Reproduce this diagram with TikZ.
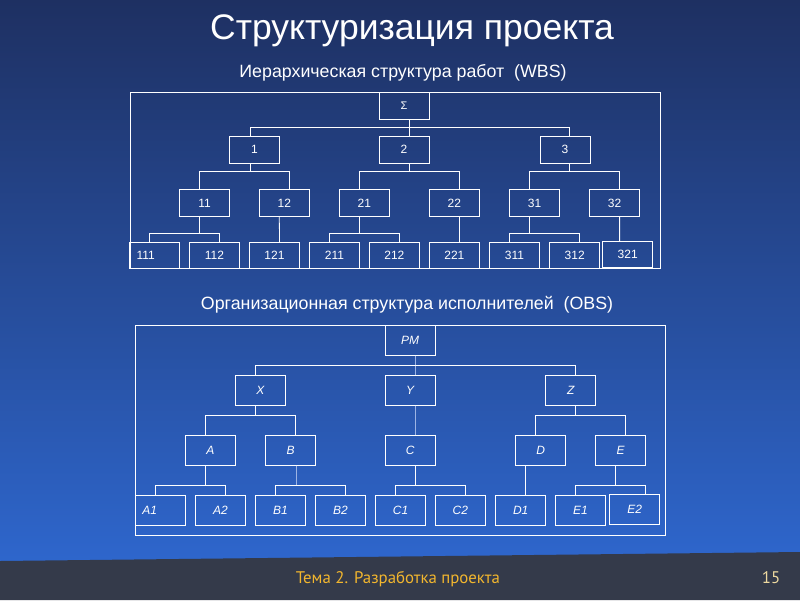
\documentclass[tikz,border=0pt]{standalone}
\usepackage{fontspec}
\setmainfont{Liberation Sans}
\newfontfamily\footfont{PT Sans}
\usepackage{tikz}
\usepackage{xcolor}
\definecolor{bgTop}     {HTML}{1E3062}
\definecolor{bgBottom}  {HTML}{2E66CC}
\definecolor{cFooter}   {HTML}{343A4A}
\definecolor{cFootText} {HTML}{F2B62E}
\definecolor{cPageNum}  {HTML}{EED9A0}
\definecolor{cPale}     {HTML}{9DB4E4}
\tikzset{
  wbsbox/.style={draw=white, line width=0.8pt, minimum width=50pt, minimum height=27pt,
                 inner sep=0pt, text=white, font=\fontsize{12}{14}\selectfont},
  obsbox/.style={wbsbox, minimum height=30pt, font=\fontsize{12}{14}\selectfont\itshape},
  wire/.style={draw=white, line width=0.8pt},
  palewire/.style={draw=cPale, line width=0.8pt},
  frame/.style={draw=white, line width=0.8pt},
}

\begin{document}
\begin{tikzpicture}[x=1pt, y=-1pt]
        \useasboundingbox (0,0) rectangle (800,600);
        % slide background
        \shade[top color=bgTop, bottom color=bgBottom] (0,0) rectangle (800,561);
        \fill[cFooter] (0,561) -- (800,552) -- (800,600) -- (0,600) -- cycle;
        % titles
        \node[font=\fontsize{35.5}{42}\selectfont, text=white, anchor=base] (title) at (412,39) {Структуризация проекта};
        \node[font=\fontsize{17.8}{21}\selectfont, text=white, anchor=base] (wbstitle) at (403,77) {Иерархическая структура работ\ \ (WBS)};
        % WBS tree
        \draw[frame] (130,92.3) rectangle (660,268.3);
        \node[wbsbox, font=\fontsize{11}{12}\selectfont] (sum) at (404,105.8) {Σ};
        \foreach \n/\x in {1/254.5, 2/404, 3/565}{
          \node[wbsbox] (w\n) at (\x,149.8) {\n};
        }
        \foreach \n/\x in {11/204.5, 12/284.3, 21/364.3, 22/454.4, 31/534.6, 32/614.6}{
          \node[wbsbox, minimum height=27.4pt] (w\n) at (\x,203) {\n};
        }
        \node[wbsbox, minimum height=26pt, text width=36pt, align=left] (w111) at (154.5,255.3) {111};
        \foreach \n/\x in {112/214.4, 121/274.5, 211/334.5, 212/394.4, 221/454.4, 311/514.5, 312/574.7}{
          \node[wbsbox, minimum height=26pt] (w\n) at (\x,255.3) {\n};
        }
        \node[wbsbox, minimum height=26pt] (w321) at (627.7,254.3) {321};
        \draw[wire] ([xshift=5.5pt]sum.south) -- ++(0,8);
        \draw[wire] ([xshift=-4.5pt]w1.north) -- ++(0,-9) -| ([xshift=4.5pt]w3.north);
        \draw[wire] ([xshift=5.5pt]w2.north) -- ++(0,-9);
        \foreach \p/\dp/\l/\dl/\r/\dr in {1/-4.5/11/-5/12/5, 2/5.5/21/-5/22/5, 3/4.5/31/-5/32/5}{
          \draw[wire] ([xshift=\dp pt]w\p.south) -- ++(0,8.4);
          \draw[wire] ([xshift=\dl pt]w\l.north) -- ++(0,-17.6) -| ([xshift=\dr pt]w\r.north);
        }
        \foreach \p/\l/\r in {11/111/112, 21/211/212, 31/311/312}{
          \draw[wire] ([xshift=-5pt]w\p.south) -- ++(0,16.6);
          \draw[wire] ([xshift=-5pt]w\l.north) -- ++(0,-9) -| ([xshift=5pt]w\r.north);
        }
        \draw[wire] ([xshift=-5pt]w12.south) -- ([xshift=5pt]w121.north);
        \draw[wire] ([xshift=5pt]w22.south) -- ([xshift=5pt]w221.north);
        \draw[wire] ([xshift=5pt]w32.south) -- ([xshift=-8.1pt]w321.north);
        % OBS tree
        \node[font=\fontsize{17.8}{21}\selectfont, text=white, anchor=base] (obstitle) at (407,309) {Организационная структура исполнителей\ \ (OBS)};
        \draw[frame] (135.4,325) rectangle (665.6,535);
        \node[obsbox] (pm) at (410.2,340.2) {PM};
        \foreach \n/\x in {x/260.4, y/410.2, z/570.8}{
          \node[obsbox] (o\n) at (\x,390.3) {\MakeUppercase{\n}};
        }
        \foreach \n/\x in {A/210.4, B/290.5, C/410.2, D/540.7, E/620.5}{
          \node[obsbox] (o\n) at (\x,450.3) {\n};
        }
        \node[obsbox, text width=36pt, align=left] (oA1) at (160.4,510.3) {A1};
        \foreach \n/\x in {A2/220.4, B1/280.5, B2/340.4, C1/400.5, C2/460.4, D1/520.7, E1/580.5}{
          \node[obsbox] (o\n) at (\x,510.3) {\n};
        }
        \node[obsbox] (oE2) at (634.6,509.2) {E2};
        \draw[palewire] ([xshift=5.6pt]pm.south) -- ([xshift=5.6pt]oy.north);
        \draw[wire] ([xshift=-4.6pt]ox.north) -- ++(0,-10) -| ([xshift=4.6pt]oz.north);
        \draw[wire] ([xshift=-4.6pt]ox.south) -- ++(0,10);
        \draw[wire] ([xshift=-5pt]oA.north) -- ++(0,-20) -| ([xshift=5pt]oB.north);
        \draw[palewire] ([xshift=5.6pt]oy.south) -- ([xshift=5.6pt]oC.north);
        \draw[wire] ([xshift=4.6pt]oz.south) -- ++(0,10);
        \draw[wire] ([xshift=-5.3pt]oD.north) -- ++(0,-20) -| ([xshift=5pt]oE.north);
        \draw[wire] ([xshift=-5pt]oA.south) -- ++(0,20.4);
        \draw[wire] ([xshift=-5pt]oA1.north) -- ++(0,-9.6) -| ([xshift=5pt]oA2.north);
        \draw[palewire] ([xshift=5.5pt]oB.south) -- ++(0,20.4);
        \draw[wire] ([xshift=-5pt]oB1.north) -- ++(0,-9.6) -| ([xshift=5pt]oB2.north);
        \draw[wire] ([xshift=5.6pt]oC.south) -- ++(0,20.4);
        \draw[wire] ([xshift=-5pt]oC1.north) -- ++(0,-9.6) -| ([xshift=5pt]oC2.north);
        \draw[wire] ([xshift=-15.4pt]oD.south) -- ([xshift=4.6pt]oD1.north);
        \draw[wire] ([xshift=-5pt]oE.south) -- ++(0,20.4);
        \draw[wire] ([xshift=-5pt]oE1.north) -- ++(0,-9.6) -| ([xshift=11pt]oE2.north);
        % footer
        \node[font=\footfont\fontsize{16.8}{20}\selectfont, text=cFootText, anchor=base] (footer) at (398,583) {Тема 2. Разработка проекта};
        \node[font=\footfont\fontsize{16.8}{20}\selectfont, text=cPageNum, anchor=base] (pagenum) at (771,583) {15};
\end{tikzpicture}
\end{document}
